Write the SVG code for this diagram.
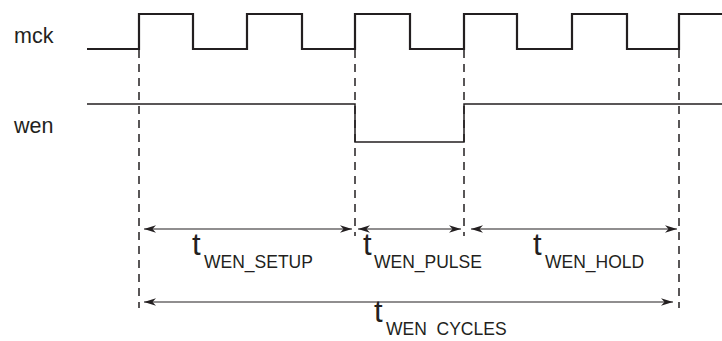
<svg xmlns="http://www.w3.org/2000/svg" width="722" height="341" viewBox="0 0 722 341">
<style>
.lbl{font-family:"Liberation Sans",Arial,sans-serif;fill:#231f20}
.sig{font-size:21.5px}
.t{font-size:31px}
.sub{font-size:17.5px}
.wave{fill:none;stroke:#231f20;stroke-linejoin:miter}
.dash{stroke:#231f20;stroke-width:1.5;stroke-dasharray:8,6;fill:none}
.dim{stroke:#231f20;stroke-width:1.2;fill:none;marker-start:url(#ah);marker-end:url(#ah)}
</style>
<defs>
<marker id="ah" viewBox="-1 -5 14 10" markerWidth="14" markerHeight="10" refX="12" refY="0" orient="auto-start-reverse" markerUnits="userSpaceOnUse">
<path d="M12,0 L0,-3.8 L3.5,0 L0,3.8 Z" fill="#231f20"/>
</marker>
</defs>
<g id="mck">
<text class="lbl sig" x="14" y="43">mck</text>
<path class="wave" stroke-width="2.2" d="M87,49 H139 V14 H193 V49 H247 V14 H302 V49 H355 V14 H410 V49 H464 V14 H517 V49 H572 V14 H627 V49 H679 V14 H722"/>
</g>
<g id="wen">
<text class="lbl sig" x="14" y="133">wen</text>
<path class="wave" stroke-width="1.5" d="M87,104 H355 V142 H464 V104 H722"/>
</g>
<g id="connectors">
<line class="dash" x1="139" y1="50" x2="139" y2="308"/>
<line class="dash" x1="355" y1="50" x2="355" y2="236"/>
<line class="dash" x1="464" y1="50" x2="464" y2="236"/>
<line class="dash" x1="679" y1="50" x2="679" y2="308"/>
<line class="dim" x1="144" y1="229" x2="352" y2="229"/>
<line class="dim" x1="358" y1="229" x2="461" y2="229"/>
<line class="dim" x1="471" y1="229" x2="677" y2="229"/>
<line class="dim" x1="144" y1="302" x2="673" y2="302"/>
</g>
<g id="t_setup">
<text class="lbl t" x="192" y="255">t</text>
<text class="lbl sub" x="204" y="268">WEN_SETUP</text>
</g>
<g id="t_pulse">
<text class="lbl t" x="363" y="255">t</text>
<text class="lbl sub" x="374" y="268">WEN_PULSE</text>
</g>
<g id="t_hold">
<text class="lbl t" x="533" y="255">t</text>
<text class="lbl sub" x="545" y="268">WEN_HOLD</text>
</g>
<g id="t_cycles">
<text class="lbl t" x="374" y="322">t</text>
<text class="lbl sub" x="386" y="335" xml:space="preserve">WEN  CYCLES</text>
</g>
</svg>
